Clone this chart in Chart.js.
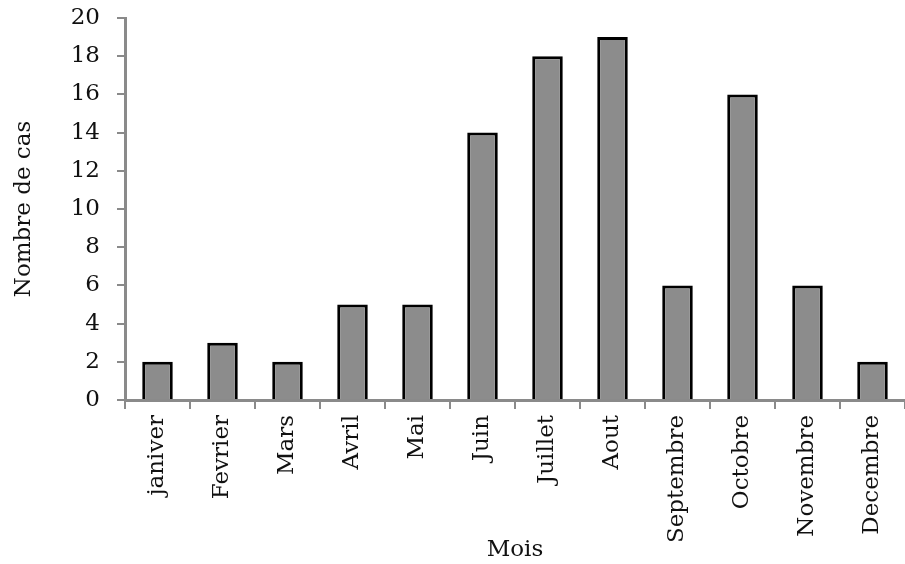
<!DOCTYPE html>
<html lang="fr">
<head>
  <meta charset="UTF-8" />
  <title>Nombre de cas par mois</title>
  <script src="https://cdn.jsdelivr.net/npm/chart.js"></script>
  <style>
    html, body { margin: 0; padding: 0; background: #fff; overflow: hidden; }
    #wrap { position: relative; width: 905px; height: 564px; }
  </style>
</head>
<body>
  <div id="wrap"><canvas id="casChart"></canvas></div>
  <script>
    const mois = ['janiver', 'Fevrier', 'Mars', 'Avril', 'Mai', 'Juin', 'Juillet', 'Aout', 'Septembre', 'Octobre', 'Novembre', 'Decembre'];
    const nombreCas = [2, 3, 2, 5, 5, 14, 18, 19, 6, 16, 6, 2];
    const yMin = 0;
    const yMax = 20;
    const yStep = 2;

    const font = { family: "'DejaVu Serif', serif", size: 23 };
    const textColor = '#111';
    const axisGray = '#8a8a8a';

    new Chart(document.getElementById('casChart').getContext('2d'), {
      type: 'bar',
      data: {
        labels: mois,
        datasets: [{
          data: nombreCas,
          backgroundColor: '#8c8c8c',
          borderColor: '#000',
          borderWidth: 3,
          barPercentage: 0.47,
          categoryPercentage: 1
        }]
      },
      options: {
        responsive: true,
        maintainAspectRatio: false,
        animation: false,
        layout: { padding: { top: 18, right: 0, left: 0, bottom: 0 } },
        plugins: { legend: { display: false }, tooltip: { enabled: false } },
        scales: {
          x: {
            grid: { drawOnChartArea: false, drawTicks: true, tickLength: 9, color: axisGray, lineWidth: 2 },
            border: { color: axisGray, width: 3 },
            ticks: { font: font, color: textColor, minRotation: 90, maxRotation: 90, padding: 6, autoSkip: false },
            title: { display: true, text: 'Mois', font: font, color: textColor, padding: { top: 0, bottom: 0 } },
            afterFit: s => { s.height = 164; s.paddingLeft = 0; s.paddingRight = 0; }
          },
          y: {
            min: yMin,
            max: yMax,
            grid: { drawOnChartArea: false, drawTicks: true, tickLength: 8, color: axisGray, lineWidth: 2 },
            border: { color: axisGray, width: 3 },
            ticks: { stepSize: yStep, font: font, color: textColor, padding: 17 },
            title: { display: true, text: 'Nombre de cas', font: font, color: textColor, padding: { top: 10, bottom: 0 } },
            afterFit: s => { s.width = 125; s.paddingTop = 0; s.paddingBottom = 0; }
          }
        }
      }
    });
  </script>
</body>
</html>
